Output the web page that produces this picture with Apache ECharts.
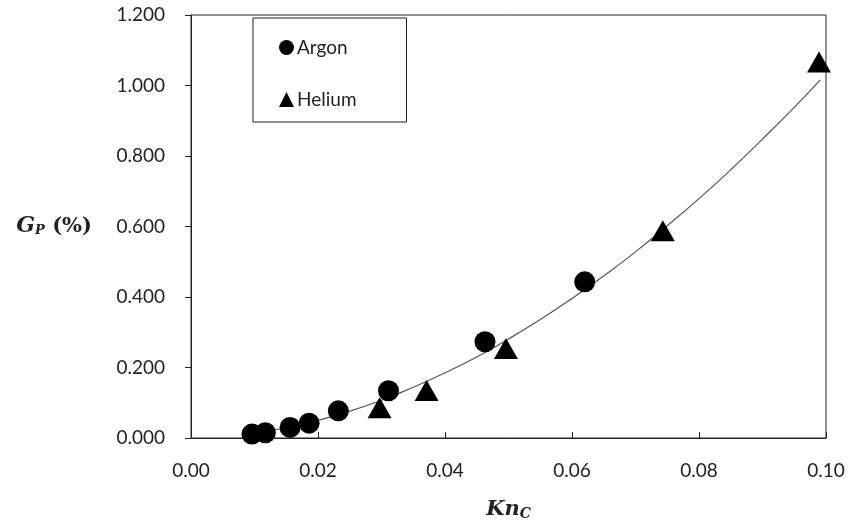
<!DOCTYPE html>
<html>
<head>
<meta charset="utf-8">
<script src="https://cdn.jsdelivr.net/npm/echarts@6/dist/echarts.min.js"></script>
<style>html,body{margin:0;padding:0;background:#fff;}#c{width:850px;height:528px;}</style>
</head>
<body>
<div id="c"></div>
<script>
// Data
const argonX = [0.0096, 0.0117, 0.0156, 0.0186, 0.0232, 0.0311, 0.0463, 0.0620];
const argonY = [0.011, 0.015, 0.030, 0.042, 0.077, 0.134, 0.273, 0.443];
const heliumX = [0.0297, 0.0371, 0.0496, 0.0743, 0.0989];
const heliumY = [0.086, 0.135, 0.254, 0.588, 1.067];
// Trend curve
const trendX = [0.0095, 0.015, 0.020, 0.025, 0.030, 0.035, 0.040, 0.045, 0.050, 0.055, 0.060, 0.065, 0.070, 0.075, 0.080, 0.085, 0.090, 0.095, 0.0991];
const trendY = [0.012, 0.029, 0.050, 0.076, 0.107, 0.144, 0.185, 0.230, 0.281, 0.336, 0.396, 0.460, 0.528, 0.602, 0.679, 0.761, 0.848, 0.938, 1.016];

const zip = (a, b) => a.map((v, i) => [v, b[i]]);
const chart = echarts.init(document.getElementById('c'));
const FONT = 'Lato, "Open Sans", "Liberation Sans", sans-serif';
const SERIF = '"DejaVu Serif", "Liberation Serif", serif';
const lab = {color: '#222', fontFamily: FONT, fontSize: 19};
chart.setOption({
  backgroundColor: '#fff',
  animation: false,
  grid: {left: 191, right: 24, top: 15, bottom: 90, show: true, borderColor: '#222', borderWidth: 1, backgroundColor: 'transparent'},
  legend: {
    orient: 'vertical', left: 253, top: 18,
    borderColor: '#222', borderWidth: 1,
    padding: [20, 50, 13, 26], itemGap: 33, itemWidth: 15, itemHeight: 15,
    textStyle: {color: '#222', fontFamily: FONT, fontSize: 19, padding: [0, 0, 0, -2]},
    data: ['Argon', 'Helium']
  },
  xAxis: {
    type: 'value', min: 0, max: 0.1, interval: 0.02,
    axisLine: {lineStyle: {color: '#222'}},
    axisTick: {inside: true, length: 6, lineStyle: {color: '#222'}},
    splitLine: {show: false},
    axisLabel: Object.assign({margin: 23, formatter: v => v.toFixed(2)}, lab),
    name: '{a|Kn}{b|C}', nameLocation: 'middle', nameGap: 60,
    nameTextStyle: {rich: {
      a: {fontFamily: SERIF, fontStyle: 'italic', fontWeight: 'bold', fontSize: 21, color: '#222'},
      b: {fontFamily: SERIF, fontStyle: 'italic', fontWeight: 'bold', fontSize: 14, color: '#222', padding: [9, 0, 0, 0]}
    }}
  },
  yAxis: {
    type: 'value', min: 0, max: 1.2, interval: 0.2,
    axisLine: {lineStyle: {color: '#222'}},
    axisTick: {inside: false, length: 6, lineStyle: {color: '#222'}},
    splitLine: {show: false},
    axisLabel: Object.assign({margin: 26, formatter: v => v.toFixed(3)}, lab),
    name: '{a|G}{b|P}{c| (%)}', nameLocation: 'middle', nameRotate: 0, nameGap: 99,
    nameTextStyle: {align: 'right', rich: {
      a: {fontFamily: SERIF, fontStyle: 'italic', fontWeight: 'bold', fontSize: 22, color: '#222'},
      b: {fontFamily: SERIF, fontStyle: 'italic', fontWeight: 'bold', fontSize: 13, color: '#222', padding: [8, 0, 0, 0]},
      c: {fontFamily: SERIF, fontWeight: 'bold', fontSize: 21, color: '#222'}
    }}
  },
  series: [
    {name: 'Trend', type: 'line', data: zip(trendX, trendY), smooth: true, showSymbol: false, symbol: 'none',
     lineStyle: {color: '#555', width: 1.2}, z: 1, silent: true},
    {name: 'Argon', type: 'scatter', data: zip(argonX, argonY), symbol: 'circle', symbolSize: 21,
     itemStyle: {color: '#000', opacity: 1}, z: 3},
    {name: 'Helium', type: 'scatter', data: zip(heliumX, heliumY), symbol: 'triangle', symbolSize: [24, 21],
     itemStyle: {color: '#000', opacity: 1}, z: 3}
  ]
});
</script>
</body>
</html>
